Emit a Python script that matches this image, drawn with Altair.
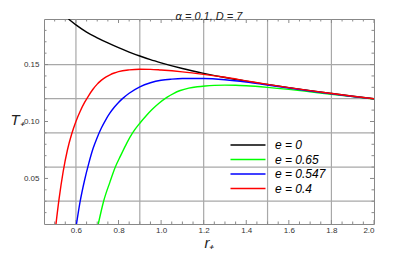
import altair as alt
import pandas as pd

# ---- data ----
labels = ["e = 0", "e = 0.65", "e = 0.547", "e = 0.4"]
colors = ["#000000", "#00ff00", "#0000ff", "#ff0000"]

r_e0 = [0.565, 0.60, 0.65, 0.70, 0.75, 0.80, 0.85, 0.90, 0.95, 1.00, 1.10, 1.20, 1.30, 1.40,
        1.50, 1.60, 1.70, 1.80, 1.90, 2.00]
T_e0 = [0.1900, 0.1848, 0.1785, 0.1735, 0.1690, 0.1648, 0.1610, 0.1575, 0.1543, 0.1515, 0.1465,
        0.1423, 0.1386, 0.1354, 0.1325, 0.1297, 0.1271, 0.1246, 0.1222, 0.1200]

r_e065 = [0.705, 0.73, 0.76, 0.785, 0.81, 0.84, 0.866, 0.90, 0.93, 0.955, 0.99, 1.027, 1.06, 1.09,
          1.13, 1.17, 1.207, 1.25, 1.30, 1.35, 1.40, 1.50, 1.60, 1.70, 1.80, 1.90, 2.00]
T_e065 = [0.010, 0.030, 0.047, 0.060, 0.070, 0.0815, 0.090, 0.0985, 0.1050, 0.1100, 0.1160, 0.1212,
          0.1248, 0.1272, 0.1293, 0.1305, 0.1312, 0.1317, 0.1319, 0.1318, 0.1314, 0.1300, 0.1282,
          0.1261, 0.1239, 0.1218, 0.1197]

r_e0547 = [0.601, 0.62, 0.64, 0.66, 0.68, 0.70, 0.72, 0.74, 0.76, 0.78, 0.80, 0.82, 0.85, 0.90,
           0.95, 1.00, 1.05, 1.10, 1.20, 1.30, 1.40, 1.50, 1.60, 1.70, 1.80, 1.90, 2.00]
T_e0547 = [0.008, 0.030, 0.048, 0.063, 0.076, 0.086, 0.0945, 0.1015, 0.1075, 0.1125, 0.1167, 0.1203,
           0.1248, 0.1305, 0.1340, 0.1362, 0.1372, 0.1377, 0.1377, 0.1367, 0.1347, 0.1320, 0.1294,
           0.1268, 0.1243, 0.1220, 0.1199]

r_e04 = [0.505, 0.52, 0.54, 0.56, 0.58, 0.60, 0.62, 0.64, 0.66, 0.68, 0.70, 0.72, 0.74, 0.76,
         0.78, 0.80, 0.85, 0.90, 0.95, 1.00, 1.10, 1.20, 1.30, 1.40, 1.50, 1.60, 1.70, 1.80,
         1.90, 2.00]
T_e04 = [0.008, 0.031, 0.056, 0.075, 0.089, 0.100, 0.109, 0.1165, 0.1228, 0.1283, 0.1328, 0.1363,
         0.1390, 0.1410, 0.1426, 0.1438, 0.1453, 0.1459, 0.1458, 0.1452, 0.1436, 0.1414, 0.1388,
         0.1357, 0.1326, 0.1297, 0.1271, 0.1246, 0.1222, 0.1200]

x_labels = [0.6, 0.8, 1.0, 1.2, 1.4, 1.6, 1.8, 2.0]
y_labels = [0.05, 0.10, 0.15]
x_grid = [0.6, 0.9, 1.2, 1.5, 1.8]
y_grid = [0.03, 0.06, 0.09, 0.12, 0.15]
x_major = [0.6, 0.8, 1.0, 1.2, 1.4, 1.6, 1.8, 2.0]
x_minor = [0.5, 0.55, 0.65, 0.7, 0.75, 0.85, 0.9, 0.95, 1.05, 1.1, 1.15, 1.25, 1.3, 1.35,
           1.45, 1.5, 1.55, 1.65, 1.7, 1.75, 1.85, 1.9, 1.95]
y_major = [0.05, 0.10, 0.15]
y_minor = [0.02, 0.03, 0.04, 0.06, 0.07, 0.08, 0.09, 0.11, 0.12, 0.13, 0.14, 0.16, 0.17, 0.18]

# ---- build table ----
rows = []
for lab, rs, ts in [(labels[0], r_e0, T_e0), (labels[1], r_e065, T_e065),
                    (labels[2], r_e0547, T_e0547), (labels[3], r_e04, T_e04)]:
    for r, t in zip(rs, ts):
        rows.append({"r": r, "T": t, "series": lab})
df = pd.DataFrame(rows)

W, H = 330, 205
FONT = "Liberation Sans"
xs = alt.Scale(domain=[0.45, 2.0], nice=False, zero=False)
ys = alt.Scale(domain=[0.01, 0.19], nice=False, zero=False)
GRID = "#a8a8a8"
TICK = "#8a8a8a"

xgrid = alt.Chart(pd.DataFrame({"v": x_grid})).mark_rule(color=GRID, strokeWidth=1.2).encode(
    x=alt.X("v:Q", scale=xs))
ygrid = alt.Chart(pd.DataFrame({"v": y_grid})).mark_rule(color=GRID, strokeWidth=1.2).encode(
    y=alt.Y("v:Q", scale=ys))

def xticks(vals, ln):
    d = pd.DataFrame({"v": vals})
    b = alt.Chart(d).mark_rule(color=TICK, strokeWidth=1).encode(
        x=alt.X("v:Q", scale=xs), y=alt.value(H), y2=alt.value(H - ln))
    t = alt.Chart(d).mark_rule(color=TICK, strokeWidth=1).encode(
        x=alt.X("v:Q", scale=xs), y=alt.value(0), y2=alt.value(ln))
    return b + t

def yticks(vals, ln):
    d = pd.DataFrame({"v": vals})
    l = alt.Chart(d).mark_rule(color=TICK, strokeWidth=1).encode(
        y=alt.Y("v:Q", scale=ys), x=alt.value(0), x2=alt.value(ln))
    r = alt.Chart(d).mark_rule(color=TICK, strokeWidth=1).encode(
        y=alt.Y("v:Q", scale=ys), x=alt.value(W), x2=alt.value(W - ln))
    return l + r

lines = alt.Chart(df).mark_line(clip=True, strokeWidth=1.4, interpolate="monotone").encode(
    x=alt.X("r:Q", scale=xs, title="r₊",
            axis=alt.Axis(values=x_labels, format=".1f", grid=False, ticks=False, domain=False,
                          labelFont=FONT, labelFontSize=8, labelColor="#333333", labelPadding=2,
                          titleFont=FONT, titleFontSize=15, titleFontStyle="italic",
                          titleFontWeight="normal", titleColor="#222222", titlePadding=1)),
    y=alt.Y("T:Q", scale=ys, title="T₊",
            axis=alt.Axis(values=y_labels, format=".2f", grid=False, ticks=False, domain=False,
                          labelFont=FONT, labelFontSize=8, labelColor="#333333", labelPadding=5,
                          titleFont=FONT, titleFontSize=15, titleFontStyle="italic",
                          titleFontWeight="normal", titleColor="#222222", titleAngle=0,
                          titleX=-27, titleY=100, titleAlign="center", titleBaseline="middle")),
    color=alt.Color("series:N", scale=alt.Scale(domain=labels, range=colors),
                    sort=labels,
                    legend=alt.Legend(orient="none", legendX=197, legendY=119, title=None,
                                      symbolType="M-3,0H3", symbolSize=136, symbolStrokeWidth=1.5,
                                      symbolFillColor="transparent", padding=0,
                                      labelFont=FONT, labelFontSize=12, labelFontStyle="italic",
                                      labelColor="#000000", rowPadding=1.5, labelOffset=20)),
)

chart = alt.layer(
    xgrid, ygrid,
    xticks(x_major, 4), xticks(x_minor, 2.5),
    yticks(y_major, 4), yticks(y_minor, 2.5),
    lines,
).properties(
    width=W, height=H,
    title=alt.TitleParams("α = 0.1, D = 7", font=FONT, fontSize=11, fontStyle="italic",
                          fontWeight="normal", color="#222222", offset=-4),
    autosize=alt.AutoSizeParams(type="none"),
    padding={"left": 36, "top": 11, "right": 30, "bottom": 30},
).configure_view(stroke="#888888", strokeWidth=1)

chart.save("out.html", embed_options={"renderer": "svg", "actions": False})
